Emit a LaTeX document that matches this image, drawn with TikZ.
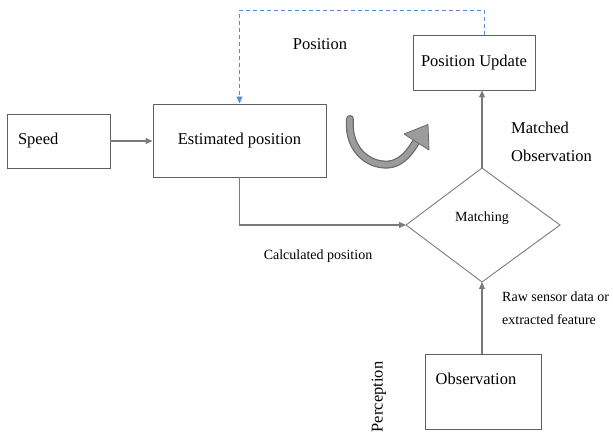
\documentclass[tikz,border=0pt]{standalone}
\usepackage{fontspec}
\setmainfont{Liberation Serif}
\usetikzlibrary{arrows.meta}
\definecolor{linegray}{HTML}{7A7A7A}
\definecolor{boxgray}{HTML}{606060}
\definecolor{dashblue}{HTML}{5B8ED0}
\definecolor{curveedge}{HTML}{6A6A6A}
\definecolor{curvefill}{HTML}{9C9C9C}
\tikzset{
  boxnode/.style={draw=boxgray, line width=0.9pt, rectangle, inner sep=0pt},
  bigtext/.style={font=\fontsize{16.5}{19}\selectfont, inner sep=0pt},
  smalltext/.style={font=\fontsize{14}{17}\selectfont, inner sep=0pt},
  flow/.style={draw=linegray, line width=1.1pt, -{Triangle[length=7pt,width=6pt]}},
  feedback/.style={draw=dashblue, line width=0.9pt, dashed, dash pattern=on 4pt off 3pt, -{Triangle[length=7pt,width=6pt]}}
}
\begin{document}
\begin{tikzpicture}[x=1pt,y=-1pt]
\useasboundingbox (0,0) rectangle (613,435);
% boxes
\node[boxnode, bigtext, minimum width=103pt, minimum height=54pt, text width=81pt, align=left, inner xsep=11pt] (speed) at (58.5,141) {Speed};
\node[boxnode, bigtext, minimum width=173pt, minimum height=73pt] (est) at (239.5,140.5) {Estimated position};
\node[boxnode, bigtext, minimum width=122pt, minimum height=55pt] (pu) at (474,62.5) {Position Update};
\node[boxnode, minimum width=116pt, minimum height=75pt] (obs) at (483,391.5) {};
\node[bigtext] (obstext) at (476,379) {Observation};
% diamond
\coordinate (dtop) at (482,168);
\coordinate (dleft) at (406,225);
\coordinate (dright) at (560,225);
\coordinate (dbot) at (482,282);
\draw[draw=linegray, line width=0.9pt] (dtop) -- (dright) -- (dbot) -- (dleft) -- cycle;
\node[smalltext] (match) at (482,218) {Matching};
% connectors
\draw[flow] (speed.east) -- (est.west |- speed.east);
\draw[flow] (est.south) |- (dleft);
\draw[flow] (dtop) -- (dtop |- pu.south);
\draw[flow] (obs.north -| dbot) -- (dbot);
\coordinate (fbstart) at (pu.north -| 484,0);
\coordinate (fbtop) at (484,10);
\draw[feedback] (fbstart) -- (fbtop) -| (est.north);
% labels
\node[bigtext] (lpos) at (320,44) {Position};
\node[bigtext, anchor=west] (lmatched) at (511,128) {Matched};
\node[bigtext, anchor=west] (lmobs) at (511,156) {Observation};
\node[smalltext] (lcalc) at (318,256) {Calculated position};
\node[smalltext, anchor=west] (lraw) at (502,297) {Raw sensor data or};
\node[smalltext, anchor=west] (lext) at (502,320) {extracted feature};
\node[bigtext, rotate=90] (lperc) at (379,397) {Perception};
% curved arrow
\draw[line width=8pt, curveedge, line cap=round] (350,119) .. controls (347,152) and (372,168) .. (392,164) .. controls (403,161) and (410,152) .. (416,142);
\draw[line width=5.5pt, curvefill, line cap=round] (350,119) .. controls (347,152) and (372,168) .. (392,164) .. controls (403,161) and (410,152) .. (416,142);
\filldraw[fill=curvefill, draw=curveedge, line width=0.8pt, line join=round] (404,134) -- (429,150) -- (428,124.5) -- cycle;
\end{tikzpicture}
\end{document}
